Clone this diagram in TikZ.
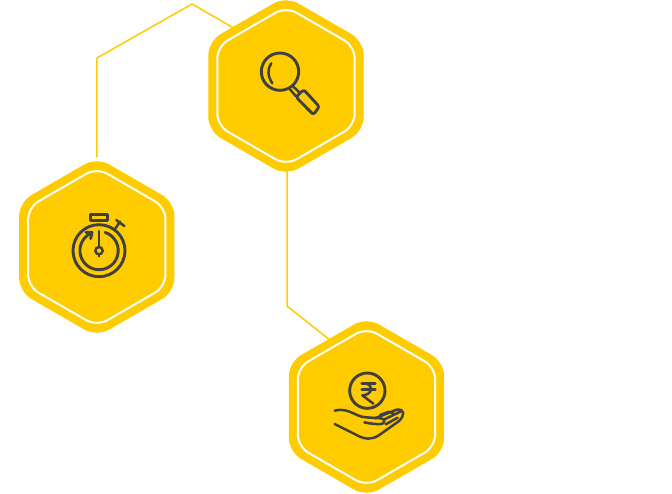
\documentclass[tikz,border=0pt]{standalone}
\usetikzlibrary{shapes.geometric,backgrounds,calc}
\definecolor{hexf}{HTML}{FFCC00}
\definecolor{ink}{HTML}{404040}
\tikzset{
  hexouter/.style={regular polygon,regular polygon sides=6,shape border rotate=30,minimum size=179.4pt,inner sep=0pt,outer sep=0pt,fill=hexf,rounded corners=14pt},
  hexinner/.style={regular polygon,regular polygon sides=6,shape border rotate=30,minimum size=158.6pt,inner sep=0pt,outer sep=0pt,draw=white,line width=2pt,rounded corners=12pt},
  link/.style={draw=hexf,line width=1.5pt,line join=miter},
  icon/.style={draw=ink,line width=2.9pt,line cap=round,line join=round},
  thinicon/.style={draw=ink,line width=2.5pt,line cap=round,line join=round}
}
\begin{document}
\begin{tikzpicture}[x=1pt,y=-1pt]
\useasboundingbox (0,0) rectangle (672,493);
% hexagons
\node[hexouter] (search) at (286,86) {};
\node[hexouter] (watch) at (96.8,247) {};
\node[hexouter] (rupee) at (366.5,407) {};
\node[hexinner] at (search) {};
\node[hexinner] at (watch) {};
\node[hexinner] at (rupee) {};
% connectors
\coordinate (b1) at (97,58);
\coordinate (b2) at (192,4);
\coordinate (e1) at (236,29.3);
\coordinate (s1) at (287,150);
\coordinate (b3) at (287,306);
\coordinate (e2) at (335,344);
\begin{scope}[on background layer]
\fill[white] (0,0) rectangle (672,493);
\draw[link] (watch.north) -- (b1) -- (b2) -- (e1);
\draw[link] (s1) -- (b3) -- (e2);
\end{scope}
% magnifier
\begin{scope}[shift={(200,0)},scale=1/3]
\draw[icon] (240,215) circle (56);
\draw[thinicon] (214,190) .. controls (202,205) and (202,228) .. (217,250);
\draw[thinicon] (280,260) -- (298,277);
\draw[thinicon] (270,268) -- (287,288);
\draw[icon,rounded corners=2.5pt] (311,269) -- (358,320) -- (340,344) -- (288,291) -- cycle;
\end{scope}
% stopwatch
\begin{scope}[shift={(50,200)},scale=1/3]
\draw[icon] (147,152) circle (78);
\draw[icon] (165,97) arc[start angle=-72,end angle=248,radius=57.5];
\draw[icon] (108,97) -- (126,97) -- (122,116);
\draw[thinicon] (147,93) -- (147,138);
\draw[thinicon] (147,152) circle (11);
\draw[thinicon] (147,163) -- (147,169);
\draw[thinicon] (122,43) rectangle (172,62);
\draw[thinicon] (197,84) -- (210,65);
\draw[thinicon] (199,60) -- (223,78);
\end{scope}
% rupee hand
\begin{scope}[shift={(325,365)},scale=1/3]
\draw[icon] (127,77) circle (53);
\draw[thinicon] (110,56) -- (151,56);
\draw[thinicon] (110,73) -- (151,73);
\draw[thinicon] (122,56) .. controls (145,57) and (145,90) .. (112,91) -- (145,116);
\draw[thinicon] (29,137) .. controls (65,128) and (85,148) .. (110,155) .. controls (125,158) and (145,158) .. (168,160) .. controls (182,162) and (180,176) .. (168,177) .. controls (155,178) and (135,176) .. (118,172);
\draw[thinicon] (29,177) -- (95,210) .. controls (120,224) and (140,224) .. (160,212) -- (222,168) .. controls (240,150) and (240,132) .. (215,134) -- (150,160);
\draw[thinicon] (165,150) -- (192,140) -- (205,145);
\draw[thinicon] (178,163) -- (226,140);
\draw[thinicon] (182,178) -- (218,158);
\end{scope}
\end{tikzpicture}
\end{document}
